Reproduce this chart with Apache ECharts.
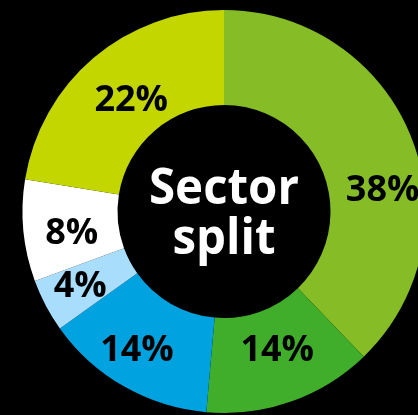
<!DOCTYPE html>
<html><head><meta charset="utf-8">
<script src="https://cdn.jsdelivr.net/npm/echarts@6/dist/echarts.min.js"></script>
<style>html,body{margin:0;padding:0;background:#000;}#c{width:418px;height:415px;}</style>
</head><body><div id="c"></div>
<script>
const categories = ['A', 'B', 'C', 'D', 'E', 'F'];
const shares = [37.8, 13.6, 13.75, 4.25, 8.15, 22.45];
const centerTitle = 'Sector\nsplit';

const colors = ['#86bc25', '#41ae2b', '#00a3df', '#a8defc', '#ffffff', '#c4d600'];
const labelOffsets = [[13, 38], [1, -9], [-9, 3], [-5, 2], [4, 7], [9, 9]];

const chart = echarts.init(document.getElementById('c'));
chart.setOption({
  backgroundColor: '#000',
  animation: false,
  graphic: [{
    type: 'text', z: 100,
    x: 224, y: 214,
    scaleX: 0.93,
    style: {
      text: centerTitle, fill: '#fff', font: 'bold 51px "Open Sans"',
      textAlign: 'center', textVerticalAlign: 'middle', lineHeight: 50
    }
  }],
  series: [{
    type: 'pie',
    center: [224, 211.5],
    radius: [106.5, 201.5],
    startAngle: 90,
    clockwise: true,
    silent: true,
    avoidLabelOverlap: false,
    label: {
      position: 'inside',
      formatter: p => Math.round(p.value) + '%',
      color: '#000',
      fontFamily: 'Open Sans',
      fontWeight: 'bold',
      fontSize: 36
    },
    labelLine: { show: false },
    itemStyle: { borderWidth: 0 },
    data: categories.map((n, i) => ({
      name: n, value: shares[i],
      itemStyle: { color: colors[i] },
      label: { offset: labelOffsets[i] }
    }))
  }]
});
</script></body></html>
